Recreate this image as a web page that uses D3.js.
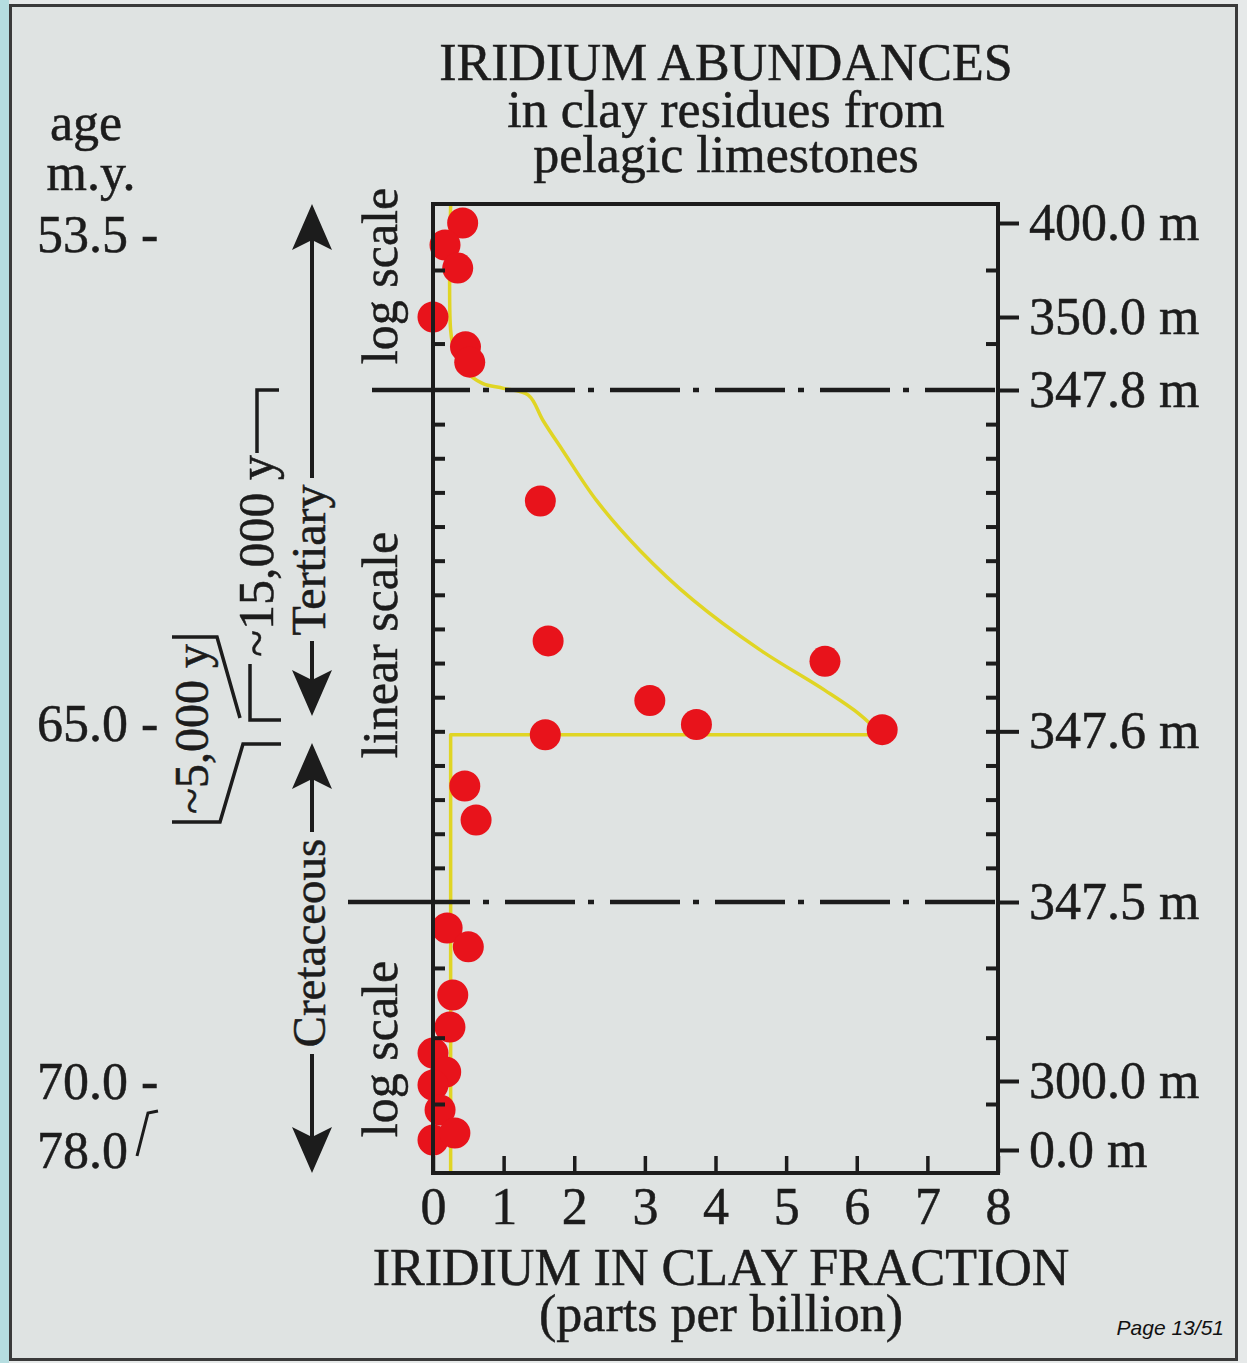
<!DOCTYPE html>
<html>
<head>
<meta charset="utf-8">
<script src="https://cdn.jsdelivr.net/npm/d3@7"></script>
<style>
  html, body { margin: 0; padding: 0; background: #e4e7e7; }
  svg { display: block; }
</style>
</head>
<body>
<svg id="chart" width="1247" height="1363"></svg>
<script>
// ---------------- DATA ----------------
const titleLines = ["IRIDIUM ABUNDANCES", "in clay residues from", "pelagic limestones"];
const xTickValues = [0, 1, 2, 3, 4, 5, 6, 7, 8];
const xLabelLines = ["IRIDIUM IN CLAY FRACTION", "(parts per billion)"];

// depth (m) labels on the right axis
const depthMajor = [400, 350, 347.8, 347.6, 347.5, 300, 0];
// minor (inward) depth ticks
const depthMinorLog = [375, 349.2, 330, 311.5, 200];
const depthMinorLinear = [347.52, 347.54, 347.56, 347.58, 347.6, 347.62, 347.64, 347.66, 347.68,
                          347.70, 347.72, 347.74, 347.76, 347.78];
// dash-dot scale breaks
const scaleBreaks = [347.8, 347.5];

// ages on the left (placed beside the depth they match)
const ageValues = ["53.5", "65.0", "70.0", "78.0"];
const ageDepths = [394, 347.605, 298, 0];

// iridium measurements: ppb and depth (m)
const irPpb = [0.42, 0.17, 0.35, 0.0, 0.46, 0.52,
               1.52, 1.63, 5.55, 3.07, 3.73, 1.59, 6.36,
               0.45, 0.61,
               0.20, 0.50, 0.28, 0.24, 0.0, 0.18, 0.0, 0.10, 0.0, 0.31];
const irDepth = [400, 388.3, 376, 350, 349.1, 348.64,
                 347.735, 347.653, 347.641, 347.618, 347.604, 347.598, 347.601,
                 347.568, 347.548,
                 340.6, 335.6, 322.8, 314.3, 307.4, 302.4, 282.6, 174, 43.5, 74];

// yellow model curve (smooth part): ppb and depth (m)
const curvePpb = [0.25, 0.25, 0.30, 0.45, 0.70, 1.00, 1.35, 1.56, 1.83, 2.32, 2.93, 3.68, 4.62, 5.55, 6.04, 6.35];
const curveDepth = [410, 349.6, 349.0, 348.4, 348.0, 347.85, 347.797, 347.782, 347.765, 347.735, 347.706,
                    347.677, 347.648, 347.624, 347.610, 347.598];
// yellow step back to background level
const stepPpb = [6.35, 0.25, 0.25];
const stepDepth = [347.598, 347.598, -100];

// ---------------- LAYOUT ----------------
const W = 1247, H = 1363;
const plotL = 433, plotR = 998;
const serif = "'Liberation Serif', 'Times New Roman', serif";
const ink = "#1c1c1c";
const FS = 52;

const svg = d3.select("#chart");

// page background
svg.append("rect").attr("x", 0).attr("y", 0).attr("width", W).attr("height", H).attr("fill", "#e6e9e9");
svg.append("rect").attr("x", 0).attr("y", 0).attr("width", 9).attr("height", H).attr("fill", "#b5dde0");
svg.append("rect").attr("x", 10.5).attr("y", 5.5).attr("width", 1226).attr("height", 1354)
   .attr("fill", "#dfe3e2").attr("stroke", "#3a3a3a").attr("stroke-width", 3);

// scales
const x = d3.scaleLinear().domain([0, 8]).range([plotL, plotR]);
// piecewise depth scale: log / linear / log sections of the figure
const y = d3.scaleLinear()
  .domain([-100, 0, 300, 347.5, 347.8, 350, 400, 410])
  .range([1173, 1150, 1081, 902, 390, 317, 223, 204]);
const plotT = y(410), plotB = y(-100);

function styleText(sel, size) {
  return sel.attr("font-family", serif).attr("font-size", size).attr("fill", ink)
    .attr("stroke", ink).attr("stroke-width", 0.5);
}

// ---------------- TITLE ----------------
const titleY = [80, 127, 172];
styleText(svg.append("g").selectAll("text").data(titleLines).join("text")
  .attr("x", 726).attr("y", (d, i) => titleY[i])
  .attr("text-anchor", "middle"), FS)
  .text(d => d);

// age header
styleText(svg.append("text").attr("x", 86).attr("y", 140).attr("text-anchor", "middle"), FS).text("age");
styleText(svg.append("text").attr("x", 91).attr("y", 190).attr("text-anchor", "middle"), FS).text("m.y.");

// age labels
styleText(svg.append("g").selectAll("text").data(ageValues).join("text")
  .attr("x", 37).attr("y", (d, i) => y(ageDepths[i]) + 18), FS)
  .text((d, i) => i < ageValues.length - 1 ? d + " -" : d);
// the little bracket after 78.0
{
  const yy = y(ageDepths[3]) + 18;
  svg.append("path")
    .attr("d", `M137,${yy - 12} L148,${yy - 55} L158,${yy - 57}`)
    .attr("fill", "none").attr("stroke", ink).attr("stroke-width", 3);
}

// ---------------- PLOT ----------------
// yellow curve
const smooth = d3.line().curve(d3.curveCatmullRom.alpha(0.5))
  .x((d, i) => x(curvePpb[i])).y((d, i) => y(curveDepth[i]));
const step = d3.line().x((d, i) => x(stepPpb[i])).y((d, i) => y(stepDepth[i]));
svg.append("path")
  .attr("d", smooth(curvePpb))
  .attr("fill", "none").attr("stroke", "#e0d524").attr("stroke-width", 3.5)
  .attr("stroke-linejoin", "round");
svg.append("path")
  .attr("d", step(stepPpb))
  .attr("fill", "none").attr("stroke", "#e0d524").attr("stroke-width", 3.5)
  .attr("stroke-linejoin", "round");

// red points
svg.append("g").selectAll("circle").data(irPpb).join("circle")
  .attr("cx", (d) => x(d))
  .attr("cy", (d, i) => y(irDepth[i]))
  .attr("r", 15.5)
  .attr("fill", "#e8131b");

// frame
svg.append("rect")
  .attr("x", plotL).attr("y", plotT).attr("width", plotR - plotL).attr("height", plotB - plotT)
  .attr("fill", "none").attr("stroke", ink).attr("stroke-width", 4);

// scale-break dash-dot lines
const breakStart = [372, 348];
scaleBreaks.forEach((d, i) => {
  const yy = y(d);
  svg.append("line").attr("x1", breakStart[i]).attr("x2", 470).attr("y1", yy).attr("y2", yy)
    .attr("stroke", ink).attr("stroke-width", 4.5);
  svg.append("line").attr("x1", 470).attr("x2", plotR).attr("y1", yy).attr("y2", yy)
    .attr("stroke", ink).attr("stroke-width", 4.5)
    .attr("stroke-dasharray", "70,13,6,16").attr("stroke-dashoffset", 70);
});

// bottom axis: inward ticks with labels below
const xAxis = d3.axisBottom(x).tickValues(xTickValues).tickFormat(d3.format("d"))
  .tickSizeInner(-17).tickSizeOuter(0).tickPadding(14);
const gx = svg.append("g").attr("transform", `translate(0,${plotB})`).call(xAxis);
gx.select(".domain").remove();
gx.selectAll(".tick line").attr("stroke", ink).attr("stroke-width", 3.5);
styleText(gx.selectAll(".tick text"), FS);

// right axis: major ticks outward with labels
const rAxis = d3.axisRight(y).tickValues(depthMajor)
  .tickFormat(d => d3.format(".1f")(d) + " m").tickSizeInner(21).tickSizeOuter(0).tickPadding(10);
const gr = svg.append("g").attr("transform", `translate(${plotR},0)`).call(rAxis);
gr.select(".domain").remove();
gr.selectAll(".tick line").attr("stroke", ink).attr("stroke-width", 4);
styleText(gr.selectAll(".tick text"), FS);

// inward minor ticks (right and left sides)
const minorAll = depthMinorLog.concat(depthMinorLinear);
const rMinor = d3.axisLeft(y).tickValues(minorAll).tickFormat("").tickSizeInner(12).tickSizeOuter(0);
const grm = svg.append("g").attr("transform", `translate(${plotR},0)`).call(rMinor);
grm.select(".domain").remove();
grm.selectAll(".tick line").attr("stroke", ink).attr("stroke-width", 4);

const lMinor = d3.axisRight(y).tickValues(minorAll).tickFormat("").tickSizeInner(12).tickSizeOuter(0);
const glm = svg.append("g").attr("transform", `translate(${plotL},0)`).call(lMinor);
glm.select(".domain").remove();
glm.selectAll(".tick line").attr("stroke", ink).attr("stroke-width", 4);

// x label
const xLabY = [1285, 1331];
styleText(svg.append("g").selectAll("text").data(xLabelLines).join("text")
  .attr("x", 721).attr("y", (d, i) => xLabY[i]).attr("text-anchor", "middle"), FS)
  .text(d => d);

// ---------------- LEFT ANNOTATIONS ----------------
function vtext(str, bx, cy, size) {
  styleText(svg.append("text")
    .attr("transform", `translate(${bx},${cy}) rotate(-90)`)
    .attr("text-anchor", "middle"), size)
    .text(str);
}
vtext("log scale", 397, 276, 50);
vtext("linear scale", 397, 645, 50);
vtext("log scale", 397, 1049, 50);
vtext("Tertiary", 325, 560, 48);
vtext("Cretaceous", 325, 943, 47);
vtext("~15,000 y", 273, 556, 50);
vtext("~5,000 y", 208, 729, 48);

const ax = 312;
function seg(x1, y1, x2, y2) {
  svg.append("line").attr("x1", x1).attr("y1", y1).attr("x2", x2).attr("y2", y2)
    .attr("stroke", ink).attr("stroke-width", 4);
}
function head(tipY, dir) { // dir = -1 up, +1 down
  const L = 46, Wd = 20, N = 36;
  const b = tipY - dir * L, n = tipY - dir * N;
  svg.append("path")
    .attr("d", `M${ax},${tipY} L${ax + Wd},${b} L${ax},${n} L${ax - Wd},${b} Z`)
    .attr("fill", ink);
}
// Tertiary arrows
head(plotT, -1); seg(ax, plotT + 30, ax, 478);
seg(ax, 641, ax, 690); head(716, 1);
// Cretaceous arrows
head(743, -1); seg(ax, 770, ax, 832);
seg(ax, 1054, ax, 1150); head(plotB, 1);

function poly(pts) {
  svg.append("path").attr("d", "M" + pts.map(p => p.join(",")).join("L"))
    .attr("fill", "none").attr("stroke", ink).attr("stroke-width", 3.5);
}
// ~15,000 y bracket
poly([[257, 453], [257, 390], [279, 390]]);
poly([[250, 664], [250, 720], [281, 720]]);
// ~5,000 y bracket
poly([[172, 637], [217, 637], [240, 718]]);
poly([[172, 822], [220, 822], [243, 744], [281, 744]]);

// page number
svg.append("text").attr("x", 1224).attr("y", 1335).attr("text-anchor", "end")
  .attr("font-family", "'Liberation Sans', Arial, sans-serif").attr("font-style", "italic")
  .attr("font-size", 21).attr("fill", "#111").text("Page 13/51");
</script>
</body>
</html>
